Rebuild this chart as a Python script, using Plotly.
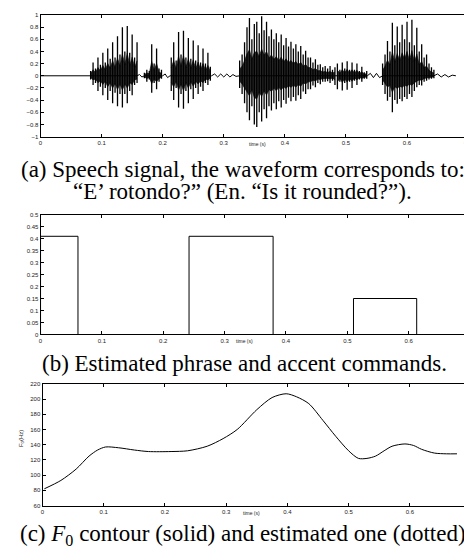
import plotly.graph_objects as go

W, H = 472, 548

# ---------------- (a) speech waveform: pitch-pulse spikes
burst_a_t = [0.082,0.086,0.090,0.094,0.098,0.102,0.106,0.110,0.114,0.118,0.122,0.126,0.130,0.134,0.138,0.142,0.146,0.150,0.154,0.158]
burst_a_top = [0.08,0.22,0.12,0.30,0.18,0.38,0.22,0.45,0.28,0.55,0.30,0.65,0.35,0.80,0.40,0.82,0.38,0.68,0.30,0.55]
burst_a_bot = [-0.06,-0.15,-0.12,-0.25,-0.18,-0.32,-0.20,-0.40,-0.25,-0.45,-0.28,-0.50,-0.30,-0.52,-0.30,-0.45,-0.25,-0.32,-0.15,-0.12]

burst_b_t = [0.170,0.174,0.178,0.182,0.186,0.190,0.194,0.198]
burst_b_top = [0.05,0.10,0.08,0.52,0.20,0.45,0.12,0.10]
burst_b_bot = [-0.04,-0.10,-0.06,-0.28,-0.12,-0.22,-0.10,-0.05]

burst_c_t = [0.214,0.218,0.222,0.226,0.230,0.234,0.238,0.242,0.246,0.250,0.254,0.258,0.262,0.266,0.270,0.274,0.278]
burst_c_top = [0.30,0.55,0.25,0.72,0.35,0.74,0.30,0.62,0.28,0.58,0.25,0.50,0.22,0.45,0.20,0.38,0.15]
burst_c_bot = [-0.25,-0.40,-0.20,-0.52,-0.30,-0.54,-0.25,-0.45,-0.22,-0.38,-0.20,-0.30,-0.18,-0.25,-0.12,-0.15,-0.08]

burst_d_t = [0.326,0.330,0.334,0.338,0.342,0.346,0.350,0.354,0.358,0.362,0.366,0.370,0.374,0.378,0.382,0.386,0.390,0.394,0.398,0.402,
             0.406,0.410,0.414,0.418,0.422,0.426,0.430,0.434,0.438,0.442,0.446,0.450,0.454,0.458,0.462,0.466,0.470,0.474,0.478,0.482]
burst_d_top = [0.25,0.35,0.55,0.80,0.95,0.60,0.85,0.89,0.70,0.98,0.75,0.89,0.65,0.76,0.60,0.70,0.55,0.68,0.50,0.62,
               0.48,0.56,0.45,0.52,0.40,0.49,0.35,0.41,0.30,0.30,0.22,0.27,0.18,0.19,0.14,0.16,0.12,0.16,0.10,0.14]
burst_d_bot = [-0.20,-0.30,-0.45,-0.60,-0.73,-0.50,-0.80,-0.84,-0.60,-0.75,-0.55,-0.70,-0.50,-0.57,-0.45,-0.55,-0.42,-0.52,-0.40,-0.46,
               -0.36,-0.42,-0.35,-0.41,-0.32,-0.38,-0.26,-0.30,-0.22,-0.22,-0.16,-0.19,-0.12,-0.14,-0.10,-0.10,-0.09,-0.12,-0.08,-0.15]

burst_d2_t = [0.486,0.490,0.494,0.498,0.502,0.506,0.510,0.514,0.518,0.522,0.526,0.530,0.534]
burst_d2_top = [0.20,0.10,0.22,0.12,0.24,0.10,0.22,0.10,0.20,0.08,0.15,0.06,0.08]
burst_d2_bot = [-0.22,-0.10,-0.24,-0.12,-0.23,-0.10,-0.20,-0.08,-0.15,-0.06,-0.10,-0.05,-0.05]

burst_e_t = [0.560,0.564,0.568,0.572,0.576,0.580,0.584,0.588,0.592,0.596,0.600,0.604,0.608,0.612,0.616,0.620,0.624,0.628,0.632,0.636,0.640,0.644]
burst_e_top = [0.20,0.35,0.57,0.40,0.87,0.50,0.81,0.55,0.84,0.60,0.89,0.55,0.92,0.50,0.79,0.40,0.52,0.30,0.35,0.20,0.14,0.10]
burst_e_bot = [-0.15,-0.30,-0.41,-0.35,-0.60,-0.40,-0.46,-0.38,-0.42,-0.35,-0.38,-0.30,-0.35,-0.25,-0.19,-0.15,-0.16,-0.10,-0.08,-0.06,-0.05,-0.04]

quiet_t = [0.000,0.060,0.080,0.158,0.162,0.166,0.170,0.200,0.204,0.208,0.212,0.280,0.285,0.290,0.295,0.300,0.305,0.310,0.315,0.320,0.326,
           0.535,0.540,0.545,0.550,0.555,0.560,0.644,0.650,0.656,0.662,0.668,0.674,0.680]
quiet_v = [0,0,0,0,0.02,-0.02,0,0,0.03,-0.03,0,0,0.03,-0.02,0.03,-0.02,0.03,-0.02,0.02,-0.01,0,
           0,0.04,-0.03,0.04,-0.03,0,0,0.03,-0.02,0.02,-0.02,0.01,0]

wave_yticks = [-1,-0.8,-0.6,-0.4,-0.2,0,0.2,0.4,0.6,0.8,1]
time_ticks = [0,0.1,0.2,0.3,0.4,0.5,0.6,0.7]

# ---------------- (b) accent commands
acc_onset = [0.0, 0.242, 0.510]
acc_offset = [0.061, 0.379, 0.613]
acc_amp = [0.41, 0.41, 0.15]
cmd_yticks = [0,0.05,0.1,0.15,0.2,0.25,0.3,0.35,0.4,0.45,0.5]

# ---------------- (c) F0 contour
f0_t = [0.003,0.030,0.055,0.076,0.090,0.103,0.124,0.150,0.173,0.210,0.237,0.269,0.295,0.318,0.350,0.375,0.398,0.415,0.435,0.458,0.479,0.500,0.516,0.530,0.544,0.558,0.571,0.592,0.606,0.619,0.640,0.660,0.677]
f0_hz = [82,93,108,125,133,137,136,133,131,131,132,138,148,160,186,202,207,203,194,172,151,132,122,122,125,132,138,141,139,134,129,128,128]
f0_yticks = [60,80,100,120,140,160,180,200,220]

def spikes(ts, tops, bots):
    xs, ys = [], []
    for t, a, b in zip(ts, tops, bots):
        xs += [t, t, None]
        ys += [b, a, None]
    return xs, ys

fig = go.Figure()

# waveform
fig.add_trace(go.Scatter(x=quiet_t, y=quiet_v, mode="lines", line=dict(color="black", width=1),
                         xaxis="x", yaxis="y", showlegend=False, hoverinfo="skip"))
for ts, tops, bots in [(burst_a_t, burst_a_top, burst_a_bot), (burst_b_t, burst_b_top, burst_b_bot),
                       (burst_c_t, burst_c_top, burst_c_bot), (burst_d_t, burst_d_top, burst_d_bot),
                       (burst_d2_t, burst_d2_top, burst_d2_bot), (burst_e_t, burst_e_top, burst_e_bot)]:
    xs, ys = spikes(ts, tops, bots)
    fig.add_trace(go.Scatter(x=xs, y=ys, mode="lines", line=dict(color="black", width=1.3),
                             xaxis="x", yaxis="y", showlegend=False, hoverinfo="skip"))
    # dense centre band
    fig.add_trace(go.Scatter(x=ts, y=[0.45 * v for v in tops], mode="lines", line=dict(color="black", width=0.6),
                             xaxis="x", yaxis="y", showlegend=False, hoverinfo="skip"))
    fig.add_trace(go.Scatter(x=ts, y=[0.45 * v for v in bots], mode="lines", line=dict(color="black", width=0.6),
                             fill="tonexty", fillcolor="rgba(0,0,0,0.85)",
                             xaxis="x", yaxis="y", showlegend=False, hoverinfo="skip"))

# accent commands
for on, off, amp in zip(acc_onset, acc_offset, acc_amp):
    fig.add_trace(go.Scatter(x=[on, on, off, off], y=[0, amp, amp, 0], mode="lines",
                             line=dict(color="black", width=1), xaxis="x2", yaxis="y2",
                             showlegend=False, hoverinfo="skip"))

# F0 contour
fig.add_trace(go.Scatter(x=f0_t, y=f0_hz, mode="lines", line=dict(color="black", width=1, shape="spline", smoothing=0.8),
                         xaxis="x3", yaxis="y3", showlegend=False, hoverinfo="skip"))

def px(x):
    return x / W

def py(y):
    return 1 - y / H

tickfont = dict(family="Liberation Sans", size=6, color="#222")
axis_common = dict(showline=True, linecolor="black", linewidth=1, mirror="ticks", ticks="inside",
                   ticklen=3, tickcolor="black", showgrid=False, zeroline=False, tickfont=tickfont)

fig.update_layout(
    width=W, height=H, margin=dict(l=0, r=0, t=0, b=0),
    paper_bgcolor="white", plot_bgcolor="white",
    xaxis=dict(domain=[px(31), px(465)], range=[0, 0.7], tickvals=time_ticks, anchor="y", **axis_common),
    yaxis=dict(domain=[py(127), py(4)], range=[-1, 1], tickvals=wave_yticks, anchor="x", **axis_common),
    xaxis2=dict(domain=[px(31), px(467)], range=[0, 0.7], tickvals=time_ticks, anchor="y2", **axis_common),
    yaxis2=dict(domain=[py(327), py(206)], range=[0, 0.5], tickvals=cmd_yticks, anchor="x2", **axis_common),
    xaxis3=dict(domain=[px(33), px(468)], range=[0, 0.7], tickvals=time_ticks, anchor="y3", **axis_common),
    yaxis3=dict(domain=[py(500), py(377)], range=[60, 220], tickvals=f0_yticks, anchor="x3", **axis_common),
)

serif = dict(family="Liberation Serif", size=23, color="black")
small = dict(family="Liberation Sans", size=5, color="#222")
ann = [
    dict(x=px(236), y=py(160), text="(a) Speech signal, the waveform corresponds to:", font=serif),
    dict(x=px(236), y=py(183), text="“E’ rotondo?” (En. “Is it rounded?”).", font=serif),
    dict(x=px(238), y=py(356), text="(b) Estimated phrase and accent commands.", font=serif),
    dict(x=px(236), y=py(530), text="(c) <i>F</i><sub>0</sub> contour (solid) and estimated one (dotted)", font=serif),
    dict(x=px(251), y=py(134), text="time (s)", font=small),
    dict(x=px(238), y=py(334), text="time (s)", font=small),
    dict(x=px(245), y=py(508), text="time (s)", font=small),
    dict(x=px(11), y=py(432), text="F<sub>0</sub>(Hz)", font=dict(family="Liberation Sans", size=6, color="#222"), textangle=-90),
]
for a in ann:
    a.update(xref="paper", yref="paper", showarrow=False, xanchor="center", yanchor="middle")
fig.update_layout(annotations=ann)

fig.write_html("out.html")
